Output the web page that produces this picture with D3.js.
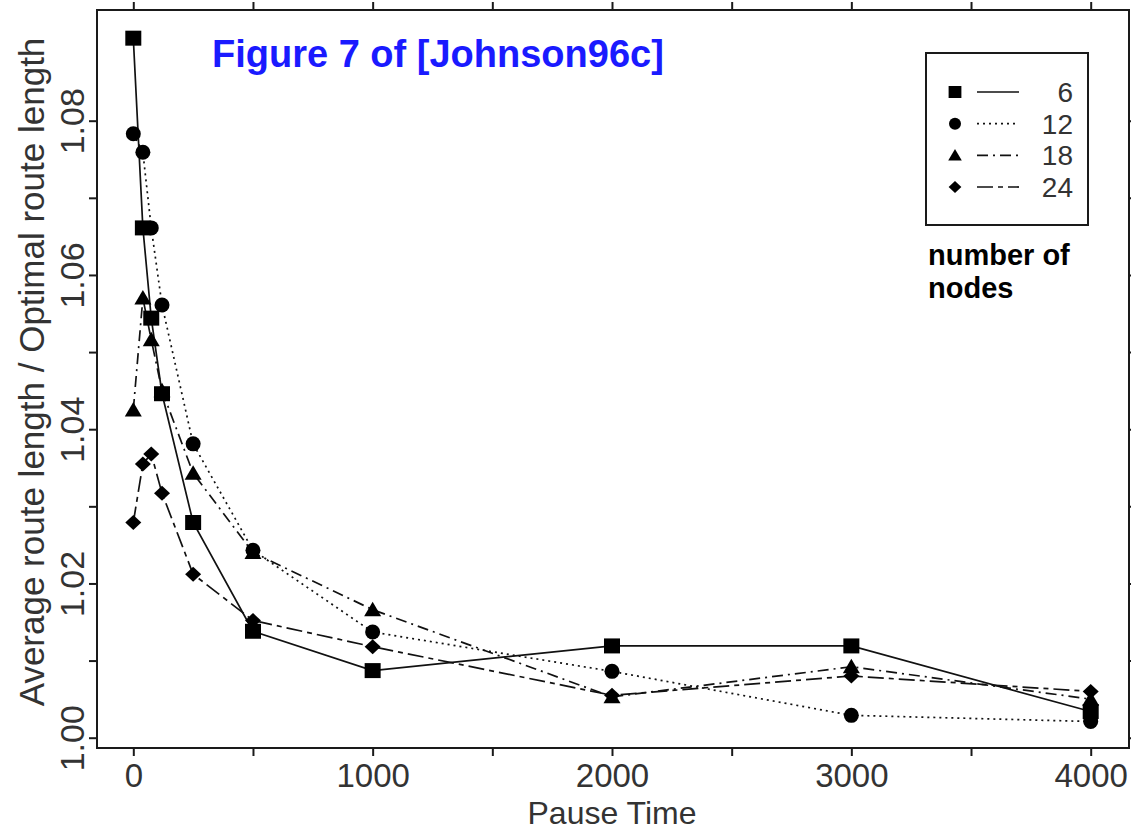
<!DOCTYPE html>
<html>
<head>
<meta charset="utf-8">
<script src="https://cdn.jsdelivr.net/npm/d3@7"></script>
<style>
  html, body { margin: 0; padding: 0; background: #fff; }
  svg { display: block; }
  text { font-family: "Liberation Sans", Arial, sans-serif; }
</style>
</head>
<body>
<svg id="chart" width="1131" height="830"></svg>
<script>
// ---- data ----
const pauseTimes = [0, 40, 75, 120, 250, 500, 1000, 2000, 3000, 4000];
const nodes6  = [1.0907, 1.0661, 1.0544, 1.0446, 1.0279, 1.0138, 1.0087, 1.0119, 1.0119, 1.0034];
const nodes12 = [1.0783, 1.0759, 1.0661, 1.0561, 1.0381, 1.0243, 1.0137, 1.0086, 1.0029, 1.0021];
const nodes18 = [1.0425, 1.0570, 1.0516, 1.0450, 1.0343, 1.0240, 1.0166, 1.0053, 1.0092, 1.0050];
const nodes24 = [1.0279, 1.0355, 1.0368, 1.0317, 1.0212, 1.0152, 1.0118, 1.0055, 1.0080, 1.0060];
const seriesNames = ["6", "12", "18", "24"];
const xTickValues = [0, 500, 1000, 1500, 2000, 2500, 3000, 3500, 4000];
const xTickLabels = ["0", "", "1000", "", "2000", "", "3000", "", "4000"];
const yTickValues = [1.00, 1.01, 1.02, 1.03, 1.04, 1.05, 1.06, 1.07, 1.08];
const yTickLabels = ["1.00", "", "1.02", "", "1.04", "", "1.06", "", "1.08"];
const titleText = "Figure 7 of [Johnson96c]";
const xTitle = "Pause Time";
const yTitle = "Average route length / Optimal route length";
const legendTitle = ["number of", "nodes"];

// ---- layout ----
const frame = { left: 97, top: 10, right: 1129, bottom: 748 };
const svg = d3.select("#chart");

const x = d3.scaleLinear().domain([0, 4000]).range([133.3, 1090.7]);
const y = d3.scaleLinear().domain([1.0, 1.08]).range([737.7, 120.7]);

const seriesData = [nodes6, nodes12, nodes18, nodes24];
const dashes = [null, "2,4", "11,5,2,5", "16,5,5,5"];

// custom marker shapes
const shapes = {
  square: { draw(c) { c.moveTo(-8, -7.5); c.lineTo(8, -7.5); c.lineTo(8, 7.5); c.lineTo(-8, 7.5); c.closePath(); } },
  circle: { draw(c) { c.moveTo(7.5, 0); c.arc(0, 0, 7.5, 0, 2 * Math.PI); } },
  triangle: { draw(c) { c.moveTo(0, -8); c.lineTo(8.5, 6.5); c.lineTo(-8.5, 6.5); c.closePath(); } },
  diamond: { draw(c) { c.moveTo(0, -7.5); c.lineTo(8, 0); c.lineTo(0, 7.5); c.lineTo(-8, 0); c.closePath(); } }
};
const shapeOrder = ["square", "circle", "triangle", "diamond"];
const sym = name => d3.symbol().type(shapes[name]).size(1)();

// ---- frame ----
svg.append("rect")
  .attr("x", frame.left).attr("y", frame.top)
  .attr("width", frame.right - frame.left).attr("height", frame.bottom - frame.top)
  .attr("fill", "none").attr("stroke", "#1a1a1a").attr("stroke-width", 2);

// ---- axes ----
const tickLen = 8;
const xb = svg.append("g").attr("transform", `translate(0,${frame.bottom})`)
  .call(d3.axisBottom(x).tickValues(xTickValues).tickSize(tickLen).tickSizeOuter(0)
    .tickFormat((d, i) => xTickLabels[i]));
xb.select(".domain").remove();
xb.selectAll("line").attr("stroke", "#1a1a1a").attr("stroke-width", 2);
xb.selectAll("text").attr("y", 39).attr("dy", 0)
  .style("font-size", "33px").attr("fill", "#333");

const xt = svg.append("g").attr("transform", `translate(0,${frame.top})`)
  .call(d3.axisTop(x).tickValues(xTickValues).tickSize(tickLen).tickSizeOuter(0).tickFormat(""));
xt.select(".domain").remove();
xt.selectAll("line").attr("stroke", "#1a1a1a").attr("stroke-width", 2);

const yl = svg.append("g").attr("transform", `translate(${frame.left},0)`)
  .call(d3.axisLeft(y).tickValues(yTickValues).tickSize(tickLen).tickSizeOuter(0)
    .tickFormat((d, i) => yTickLabels[i]));
yl.select(".domain").remove();
yl.selectAll("line").attr("stroke", "#1a1a1a").attr("stroke-width", 2);
yl.selectAll("text")
  .attr("transform", "rotate(-90)")
  .attr("x", 0).attr("y", -13).attr("dy", 0)
  .attr("text-anchor", "middle")
  .style("font-size", "34px").attr("fill", "#333");

const yr = svg.append("g").attr("transform", `translate(${frame.right},0)`)
  .call(d3.axisRight(y).tickValues(yTickValues).tickSize(tickLen).tickSizeOuter(0).tickFormat(""));
yr.select(".domain").remove();
yr.selectAll("line").attr("stroke", "#1a1a1a").attr("stroke-width", 2);

d3.selectAll("g").attr("font-family", null).attr("font-size", null);

// axis titles
svg.append("text")
  .attr("x", 612).attr("y", 824)
  .attr("text-anchor", "middle")
  .style("font-size", "32px").attr("fill", "#333")
  .text(xTitle);

svg.append("text")
  .attr("transform", "translate(44,372) rotate(-90)")
  .attr("text-anchor", "middle")
  .style("font-size", "35px").attr("fill", "#333")
  .text(yTitle);

// ---- series ----
const line = d3.line().x(d => x(d.t)).y(d => y(d.v));
seriesData.forEach((vals, si) => {
  const pts = pauseTimes.map((t, i) => ({ t, v: vals[i] }));
  svg.append("path")
    .datum(pts)
    .attr("d", line)
    .attr("fill", "none")
    .attr("stroke", "#111")
    .attr("stroke-width", 1.7)
    .attr("stroke-dasharray", dashes[si]);
});
seriesData.forEach((vals, si) => {
  const pts = pauseTimes.map((t, i) => ({ t, v: vals[i] }));
  svg.append("g").selectAll("path")
    .data(pts)
    .join("path")
    .attr("d", sym(shapeOrder[si]))
    .attr("transform", d => `translate(${x(d.t)},${y(d.v)})`)
    .attr("fill", "#000");
});

// ---- title ----
svg.append("text")
  .attr("x", 212).attr("y", 67)
  .style("font-size", "38px").style("font-weight", "bold")
  .attr("fill", "#1a1aff")
  .text(titleText);

// ---- legend ----
const lg = { left: 926, top: 53, right: 1088, bottom: 225 };
svg.append("rect")
  .attr("x", lg.left).attr("y", lg.top)
  .attr("width", lg.right - lg.left).attr("height", lg.bottom - lg.top)
  .attr("fill", "#fff").attr("stroke", "#1a1a1a").attr("stroke-width", 2);
const rowY = d3.scalePoint().domain(seriesNames).range([92, 187]);
seriesNames.forEach((name, si) => {
  const cy = rowY(name);
  svg.append("path").attr("d", sym(shapeOrder[si]))
    .attr("transform", `translate(955,${cy}) scale(0.8)`).attr("fill", "#000");
  svg.append("line").attr("x1", 977).attr("x2", 1019).attr("y1", cy).attr("y2", cy)
    .attr("stroke", "#111").attr("stroke-width", 1.7).attr("stroke-dasharray", dashes[si]);
  svg.append("text").attr("x", 1073).attr("y", cy + 10)
    .attr("text-anchor", "end").style("font-size", "28px").attr("fill", "#333")
    .text(name);
});
legendTitle.forEach((t, i) => {
  svg.append("text").attr("x", 928).attr("y", 265 + i * 33)
    .style("font-size", "29px").style("font-weight", "bold").attr("fill", "#000")
    .text(t);
});
</script>
</body>
</html>
